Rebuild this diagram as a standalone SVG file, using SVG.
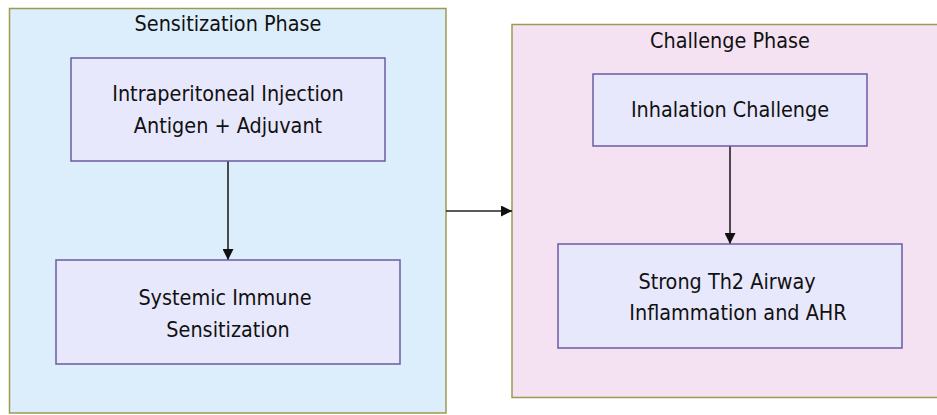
<svg xmlns="http://www.w3.org/2000/svg" width="937" height="415" viewBox="0 0 937 415">
  <style>
    .cluster-blue { fill: #dceefb; stroke: #9a9a50; stroke-width: 1.5; }
    .cluster-pink { fill: #f4e2f3; stroke: #9a9a50; stroke-width: 1.5; }
    .node rect { fill: #e8e8fc; stroke: #6b5ba3; stroke-width: 1.5; }
    text { font-family: "DejaVu Sans Condensed", "DejaVu Sans", sans-serif; font-stretch: condensed; font-size: 21.4px; fill: #111; text-anchor: middle; }
    .edge { stroke: #222; stroke-width: 1.6; fill: none; marker-end: url(#arrow); }
  </style>
  <defs>
    <marker id="arrow" viewBox="0 0 10 10" refX="10" refY="5" markerWidth="11" markerHeight="11" markerUnits="userSpaceOnUse" orient="auto">
      <path d="M0,0 L10,5 L0,10 z" fill="#111"/>
    </marker>
  </defs>
  <rect width="937" height="415" fill="#ffffff"/>

  <g id="sensitization-phase">
    <rect class="cluster-blue" x="9.5" y="8.5" width="436.5" height="404.5"/>
    <text x="228" y="31">Sensitization Phase</text>
  </g>
  <g id="challenge-phase">
    <rect class="cluster-pink" x="512" y="24.5" width="440" height="373"/>
    <text x="730" y="48">Challenge Phase</text>
  </g>

  <g id="connectors">
    <line class="edge" x1="228" y1="161" x2="228" y2="260"/>
    <line class="edge" x1="730" y1="146" x2="730" y2="244"/>
    <line class="edge" x1="446" y1="211" x2="512" y2="211"/>
  </g>

  <g id="ip-injection" class="node">
    <rect x="71" y="58" width="314" height="103"/>
    <text x="228" y="101">Intraperitoneal Injection</text>
    <text x="228" y="133">Antigen + Adjuvant</text>
  </g>
  <g id="systemic-sensitization" class="node">
    <rect x="56" y="260" width="344" height="104"/>
    <text x="225" y="305">Systemic Immune</text>
    <text x="228" y="337">Sensitization</text>
  </g>
  <g id="inhalation-challenge" class="node">
    <rect x="593" y="74" width="274" height="72"/>
    <text x="730" y="117">Inhalation Challenge</text>
  </g>
  <g id="airway-inflammation" class="node">
    <rect x="558" y="244" width="344" height="104"/>
    <text x="727" y="289">Strong Th2 Airway</text>
    <text x="738" y="320">Inflammation and AHR</text>
  </g>
</svg>
